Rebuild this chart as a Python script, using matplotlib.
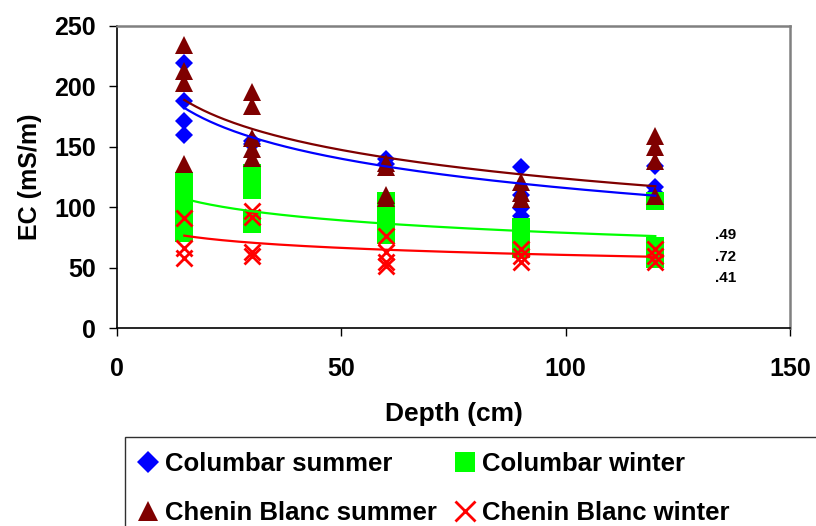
#!/usr/bin/env python3
"""
EC vs depth scatter with logarithmic trend lines (Columbar / Chenin Blanc, summer / winter).
"""

import numpy as np
import matplotlib
matplotlib.use("Agg")
import matplotlib.pyplot as plt
from matplotlib.patches import Rectangle

plt.rcParams["font.family"] = ["Liberation Sans", "DejaVu Sans"]
plt.rcParams["font.weight"] = "bold"

# --- data ---------------------------------------------------------------
# depth (cm) -> EC readings (mS/m)
col_sum_depth = [15, 15, 15, 15, 30, 30, 60, 60, 90, 90, 90, 90, 120, 120, 120]
col_sum_ec    = [219, 188, 171, 160, 155, 152, 140, 136, 133, 110, 99, 93, 134, 117, 112]

col_win_depth = [15, 15, 15, 15, 15, 15, 30, 30, 30, 30, 30,
                 60, 60, 60, 60, 60, 90, 90, 90, 90, 120, 120, 120, 120]
col_win_ec    = [122, 114, 105, 96, 86, 79, 128, 120, 114, 90, 86,
                 105, 97, 90, 83, 77, 84, 78, 72, 65, 105, 68, 62, 57]

chb_sum_depth = [15, 15, 15, 15, 30, 30, 30, 30, 30, 60, 60, 60, 60,
                 90, 90, 90, 120, 120, 120, 120]
chb_sum_ec    = [234, 213, 203, 136, 195, 184, 157, 148, 141, 137, 133, 110, 108,
                 121, 112, 107, 159, 150, 138, 109]

chb_win_depth = [15, 15, 15, 30, 30, 30, 30, 60, 60, 60, 60, 90, 90, 90, 120, 120, 120]
chb_win_ec    = [91, 66, 58, 97, 92, 63, 60, 76, 63, 55, 51, 65, 60, 55, 65, 60, 55]

r2_labels = [".49", ".72", ".41"]

series = [
    # label, depth, ec, marker, size, colour
    ("Columbar summer",     col_sum_depth, col_sum_ec, "D", 9.5, "#0000FF"),
    ("Columbar winter",     col_win_depth, col_win_ec, "s", 13, "#00FF00"),
    ("Chenin Blanc summer", chb_sum_depth, chb_sum_ec, "^", 13, "#7F0000"),
    ("Chenin Blanc winter", chb_win_depth, chb_win_ec, "x", 12, "#FF0000"),
]


def log_fit(x, y):
    """y = a ln(x) + b (Excel style log trendline)."""
    a, b = np.polyfit(np.log(x), y, 1)
    return a, b


def main():
    fig = plt.figure(figsize=(8.16, 5.26), dpi=100)
    ax = fig.add_axes([0.1434, 0.3764, 0.968 - 0.1434, 0.9506 - 0.3764])

    handles = {}
    for label, xd, yd, mk, ms, col in series:
        mew = 2 if mk == "x" else 0
        h, = ax.plot(xd, yd, ls="none", marker=mk, ms=ms, mew=mew,
                     color=col, zorder=3)
        handles[label] = h

        # trend line over the sampled depth range
        a, b = log_fit(np.array(xd, float), np.array(yd, float))
        xf = np.linspace(min(xd), max(xd), 200)
        ax.plot(xf, a * np.log(xf) + b, color=col, lw=1.6, zorder=4)

    # R^2 notes (truncated in the original)
    for txt, yv in zip(r2_labels, [77, 59, 41]):
        ax.text(133.3, yv, txt, fontsize=11, fontweight="bold", va="center")

    ax.set_xlim(0, 150)
    ax.set_ylim(0, 250)
    ax.set_xticks([0, 50, 100, 150])
    ax.set_yticks([0, 50, 100, 150, 200, 250])

    ax.spines["left"].set_color("black")
    ax.spines["bottom"].set_color("black")
    ax.spines["left"].set_linewidth(1.2)
    ax.spines["bottom"].set_linewidth(1.2)
    for s in ("top", "right"):
        ax.spines[s].set_color("#808080")
        ax.spines[s].set_linewidth(1.8)

    ax.tick_params(axis="both", direction="out", length=6, width=1, labelsize=18)
    ax.tick_params(axis="y", pad=9)
    ax.tick_params(axis="x", pad=15)
    for lab in ax.get_xticklabels() + ax.get_yticklabels():
        lab.set_fontweight("bold")

    ax.set_xlabel("Depth (cm)", fontsize=19, fontweight="bold", labelpad=15)
    ax.set_ylabel("EC (mS/m)", fontsize=18, fontweight="bold", labelpad=9)

    # legend box: runs off the right and bottom edges of the figure
    box_left, box_top = 125 / 816, 1 - 437 / 526
    fig.patches.append(Rectangle((box_left, -0.2), 1.2, box_top + 0.2,
                                 transform=fig.transFigure, fill=False,
                                 edgecolor="#303030", lw=1.0, zorder=1))

    order = ["Columbar summer", "Chenin Blanc summer",
             "Columbar winter", "Chenin Blanc winter"]
    fig.legend([handles[k] for k in order], order,
               loc="upper left", bbox_to_anchor=(box_left, box_top),
               ncol=2, frameon=False, markerscale=1.15,
               prop={"size": 18.5, "weight": "bold"},
               handlelength=0.6, handletextpad=0.35, columnspacing=0.8,
               labelspacing=0.95, borderpad=0.6, borderaxespad=0)

    fig.savefig("out.png", dpi=100)


if __name__ == "__main__":
    main()
